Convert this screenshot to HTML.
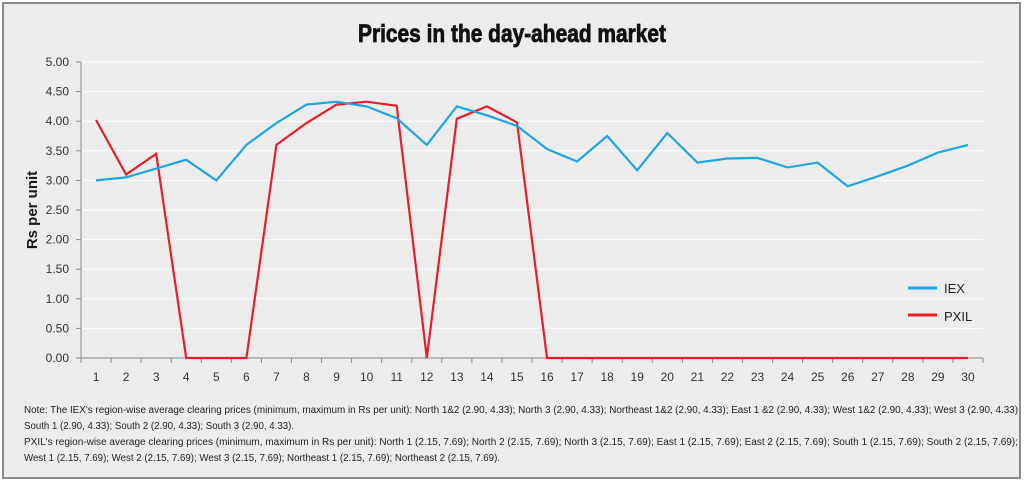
<!DOCTYPE html>
<html><head><meta charset="utf-8"><style>
html,body{margin:0;padding:0;background:#fff;}
svg{display:block;font-family:"Liberation Sans",Arial,sans-serif;}
</style></head><body>
<svg id="chart" width="1024" height="483" viewBox="0 0 1024 483">
<rect x="3" y="3" width="1017" height="475" fill="#edecec" stroke="#8a8a8a" stroke-width="2"/>
<text x="512" y="42" text-anchor="middle" font-size="25" font-weight="bold" fill="#111" stroke="#111" stroke-width="0.8" textLength="308" lengthAdjust="spacingAndGlyphs">Prices in the day-ahead market</text>
<text transform="translate(37,210) rotate(-90)" text-anchor="middle" font-size="15" font-weight="bold" fill="#1a1a1a">Rs per unit</text>
<g id="grid"></g><g id="axes"></g><g id="series"></g>
<g>
<line x1="908" y1="288" x2="937" y2="288" stroke="#1aa6df" stroke-width="3"/>
<text x="944" y="293" font-size="13" fill="#222">IEX</text>
<line x1="908" y1="315" x2="937" y2="315" stroke="#e3202a" stroke-width="3"/>
<text x="944" y="321" font-size="13" fill="#222">PXIL</text>
</g>
<g font-size="10" fill="#222">
<text x="24" y="413" textLength="994" lengthAdjust="spacingAndGlyphs">Note: The IEX's region-wise average clearing prices (minimum, maximum in Rs per unit):  North 1&amp;2 (2.90, 4.33); North 3 (2.90, 4.33); Northeast 1&amp;2 (2.90, 4.33); East 1 &amp;2 (2.90, 4.33); West 1&amp;2 (2.90, 4.33); West 3 (2.90, 4.33)</text>
<text x="24" y="429" textLength="270" lengthAdjust="spacingAndGlyphs">South 1 (2.90, 4.33); South 2 (2.90, 4.33); South 3 (2.90, 4.33).</text>
<text x="24" y="445" textLength="994" lengthAdjust="spacingAndGlyphs">PXIL's region-wise average clearing prices (minimum, maximum in Rs per unit):  North 1 (2.15, 7.69); North 2 (2.15, 7.69); North 3 (2.15, 7.69); East 1 (2.15, 7.69); East 2 (2.15, 7.69); South 1 (2.15, 7.69); South 2 (2.15, 7.69);</text>
<text x="24" y="461" textLength="476" lengthAdjust="spacingAndGlyphs">West 1 (2.15, 7.69); West 2 (2.15, 7.69); West 3 (2.15, 7.69); Northeast 1 (2.15, 7.69); Northeast 2 (2.15, 7.69).</text>
</g>
</svg>
<script>
const days = [1,2,3,4,5,6,7,8,9,10,11,12,13,14,15,16,17,18,19,20,21,22,23,24,25,26,27,28,29,30];
const iex = [3.00,3.05,3.20,3.35,3.00,3.60,3.97,4.28,4.33,4.25,4.05,3.60,4.25,4.10,3.92,3.53,3.32,3.75,3.17,3.80,3.30,3.37,3.38,3.22,3.30,2.90,3.07,3.25,3.47,3.60];
const pxil = [4.02,3.10,3.45,0,0,0,3.60,3.97,4.28,4.33,4.26,0,4.04,4.25,3.98,0,0,0,0,0,0,0,0,0,0,0,0,0,0,0];
const yTicks = [0,0.5,1,1.5,2,2.5,3,3.5,4,4.5,5];
const yTickLabels = ["0.00","0.50","1.00","1.50","2.00","2.50","3.00","3.50","4.00","4.50","5.00"];
const X0=81, X1=983, Y0=358, Y1=62, yMax=5;
const band=(X1-X0)/days.length;
const xs=i=>X0+band*(i+0.5);
const ys=v=>Y0-(v/yMax)*(Y0-Y1);
const NS="http://www.w3.org/2000/svg";
function mk(tag,attrs,parent){const e=document.createElementNS(NS,tag);for(const k in attrs)e.setAttribute(k,attrs[k]);parent.appendChild(e);return e;}
const grid=document.getElementById('grid'),axes=document.getElementById('axes'),series=document.getElementById('series');
yTicks.forEach((t,i)=>{
  if(t>0){const g=mk('line',{x1:X0,x2:X1,y1:ys(t),y2:ys(t),stroke:'#ffffff','stroke-width':1},grid);
  
  }
  const tk=mk('line',{x1:X0-5,x2:X0,y1:ys(t),y2:ys(t),stroke:'#888','stroke-width':1},axes);
  
  
  const lb=mk('text',{x:X0-12,y:ys(t)+4,'text-anchor':'end','font-size':12,fill:'#333'},axes);
  lb.textContent=yTickLabels[i];
  
  
});
const ya=mk('line',{x1:X0,x2:X0,y1:Y1,y2:Y0,stroke:'#888','stroke-width':1},axes);


const xa=mk('line',{x1:X0,x2:X1,y1:Y0,y2:Y0,stroke:'#888','stroke-width':1},axes);


for(let k=0;k<=days.length;k++){
  const tk=mk('line',{x1:X0+band*k,x2:X0+band*k,y1:Y0,y2:Y0+5,stroke:'#888','stroke-width':1},axes);
  
  
}
days.forEach((d,i)=>{
  const lb=mk('text',{x:xs(i),y:381,'text-anchor':'middle','font-size':12,fill:'#333'},axes);
  lb.textContent=d;
  
  
});
function line(vals,color,name){
  const p=mk('polyline',{points:vals.map((v,i)=>xs(i).toFixed(1)+','+ys(v).toFixed(1)).join(' '),fill:'none',stroke:color,'stroke-width':2.2,'stroke-linejoin':'miter'},series);
  
  
}
line(pxil,'#e3202a','pxil-line');
line(iex,'#1aa6df','iex-line');
</script>
</body></html>
